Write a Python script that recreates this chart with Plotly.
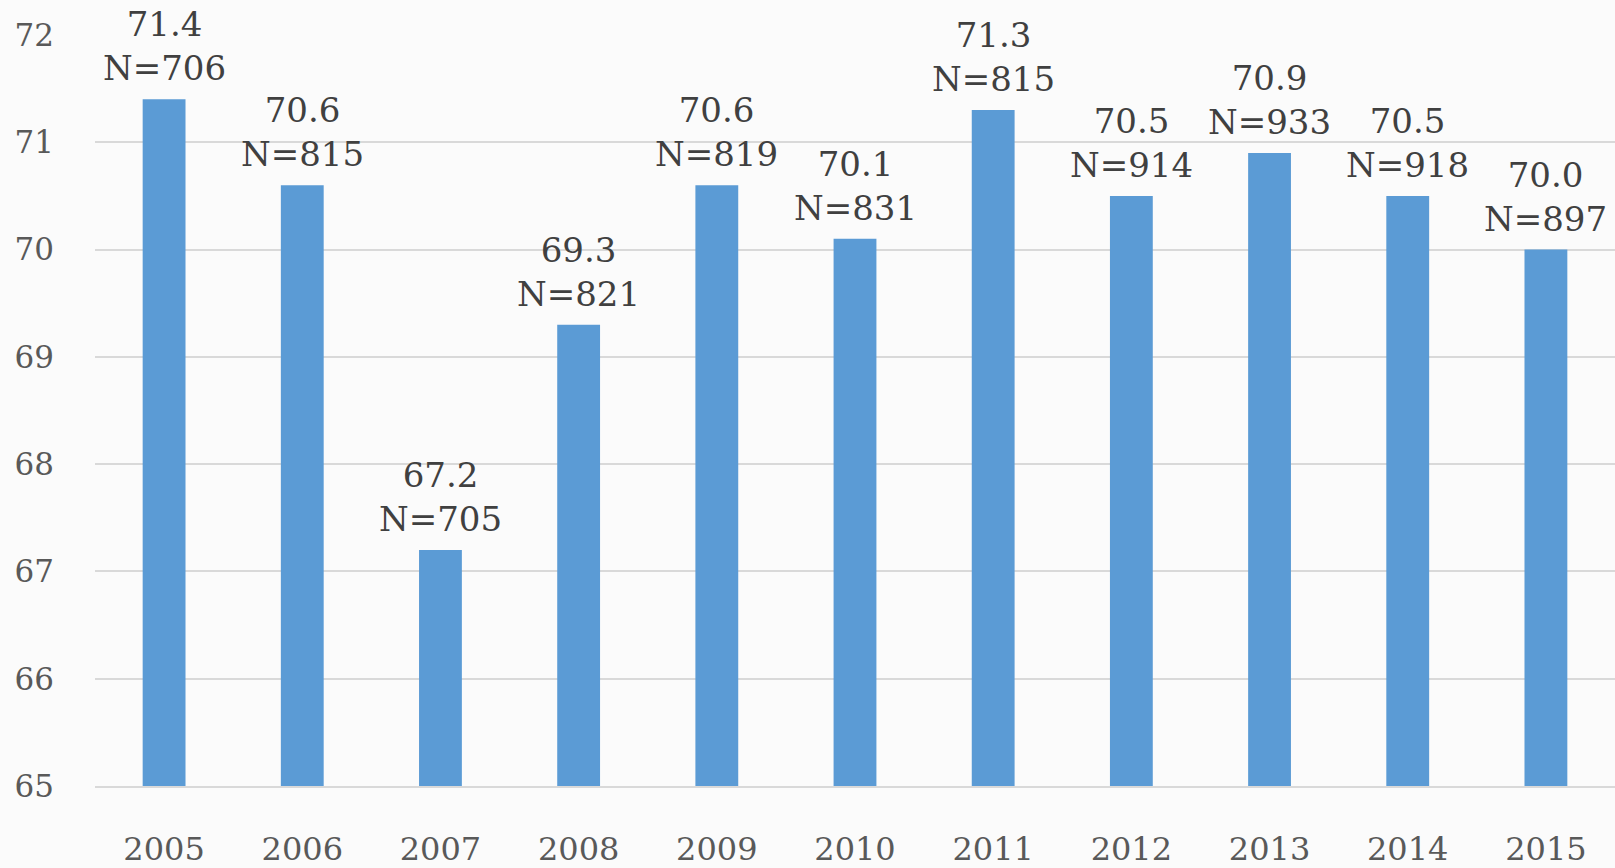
import plotly.graph_objects as go

years = ["2005", "2006", "2007", "2008", "2009", "2010", "2011", "2012", "2013", "2014", "2015"]
values = [71.4, 70.6, 67.2, 69.3, 70.6, 70.1, 71.3, 70.5, 70.9, 70.5, 70.0]
counts = [706, 815, 705, 821, 819, 831, 815, 914, 933, 918, 897]
y_ticks = [65, 66, 67, 68, 69, 70, 71, 72]

labels = [f"{v:.1f}<br>N={n}" for v, n in zip(values, counts)]

FONT = "DejaVu Serif"

fig = go.Figure(go.Bar(
    x=years,
    y=values,
    marker=dict(color="#5B9BD5", line=dict(width=0)),
    cliponaxis=False,
    hoverinfo="skip",
))

# value labels above each bar (category index positions on the x axis)
for i, (v, lab) in enumerate(zip(values, labels)):
    fig.add_annotation(
        x=i, y=v, xref="x", yref="y", text=lab, showarrow=False,
        xanchor="center", yanchor="bottom", yshift=9,
        font=dict(family=FONT, size=34, color="#404040"),
    )

fig.update_layout(
    width=1615,
    height=868,
    margin=dict(l=95, r=0, t=35, b=79),
    paper_bgcolor="#fbfbfb",
    plot_bgcolor="#fbfbfb",
    bargap=0.69,
    showlegend=False,
    font=dict(family=FONT, color="#595959"),
)

fig.update_yaxes(
    range=[65, 72],
    tickvals=y_ticks,
    showgrid=True,
    gridcolor="#d9d9d9",
    gridwidth=2,
    zeroline=False,
    showline=False,
    tickfont=dict(family=FONT, size=31, color="#595959"),
    ticklabelstandoff=40,
)

fig.update_xaxes(
    type="category",
    categoryorder="array",
    categoryarray=years,
    showgrid=False,
    showline=True,
    linecolor="#d9d9d9",
    linewidth=2,
    tickfont=dict(family=FONT, size=32, color="#595959"),
    ticklabelstandoff=34,
)

fig.write_html(
    "out.html",
    config={"displayModeBar": False},
    post_script="document.body.style.margin='0';document.body.style.background='#fbfbfb';",
)
